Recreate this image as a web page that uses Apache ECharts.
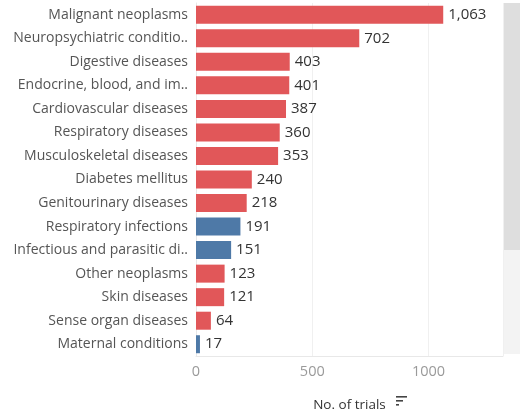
<!DOCTYPE html>
<html><head><meta charset="utf-8">
<script src="https://cdn.jsdelivr.net/npm/echarts@6/dist/echarts.min.js"></script>
<style>html,body{margin:0;padding:0;background:#fff}#c{width:520px;height:412px}</style>
</head><body><div id="c"></div>
<script>
const categories = ["Malignant neoplasms","Neuropsychiatric conditio..","Digestive diseases","Endocrine, blood, and im..","Cardiovascular diseases","Respiratory diseases","Musculoskeletal diseases","Diabetes mellitus","Genitourinary diseases","Respiratory infections","Infectious and parasitic di..","Other neoplasms","Skin diseases","Sense organ diseases","Maternal conditions"];
const values = [1063,702,403,401,387,360,353,240,218,191,151,123,121,64,17];
const groups = ["r","r","r","r","r","r","r","r","r","b","b","r","r","r","b"];
const colorMap = {r:"#e15759", b:"#4e79a7"};
const FONT = 'Open Sans';

const chart = echarts.init(document.getElementById('c'));
chart.setOption({
  animation:false,
  textStyle:{fontFamily:FONT},
  grid:{left:196, right:17, top:3, height:353, containLabel:false, outerBoundsMode:'none'},
  xAxis:{type:'value', min:0, max:1320, interval:500,
    axisLabel:{showMaxLabel:false, color:'#9a9a9a', fontSize:14.5, margin:8, fontFamily:FONT, formatter:v=>String(v)},
    axisLine:{show:true, lineStyle:{color:'#e8e8e8'}}, axisTick:{show:false},
    splitLine:{lineStyle:{color:'#f0f0f0'}},
    name:'No. of trials', nameLocation:'middle', nameGap:42,
    nameTextStyle:{color:'#333', fontSize:13.5, fontFamily:FONT}},
  yAxis:{type:'category', data:categories, inverse:true,
    axisLine:{show:true, lineStyle:{color:'#e8e8e8'}}, axisTick:{show:false},
    axisLabel:{color:'#555', fontSize:14, margin:8, fontFamily:FONT}},
  series:[{type:'bar', barWidth:18,
    data:values.map((v,i)=>({value:v, itemStyle:{color:colorMap[groups[i]]}})),
    label:{show:true, position:'right', distance:5, color:'#333', fontSize:15, fontFamily:FONT,
      formatter:p=>p.value.toLocaleString('en-US')}}],
  graphic:[
    {type:'rect', shape:{x:504,y:3,width:16,height:247}, style:{fill:'#dedede'}},
    {type:'rect', shape:{x:504,y:250,width:16,height:104}, style:{fill:'#f3f3f3'}},
    {type:'rect', shape:{x:396,y:396,width:11,height:1.6}, style:{fill:'#444'}},
    {type:'rect', shape:{x:396,y:400,width:7,height:1.6}, style:{fill:'#444'}},
    {type:'rect', shape:{x:396,y:404,width:3,height:1.6}, style:{fill:'#444'}}
  ]
});
</script></body></html>
